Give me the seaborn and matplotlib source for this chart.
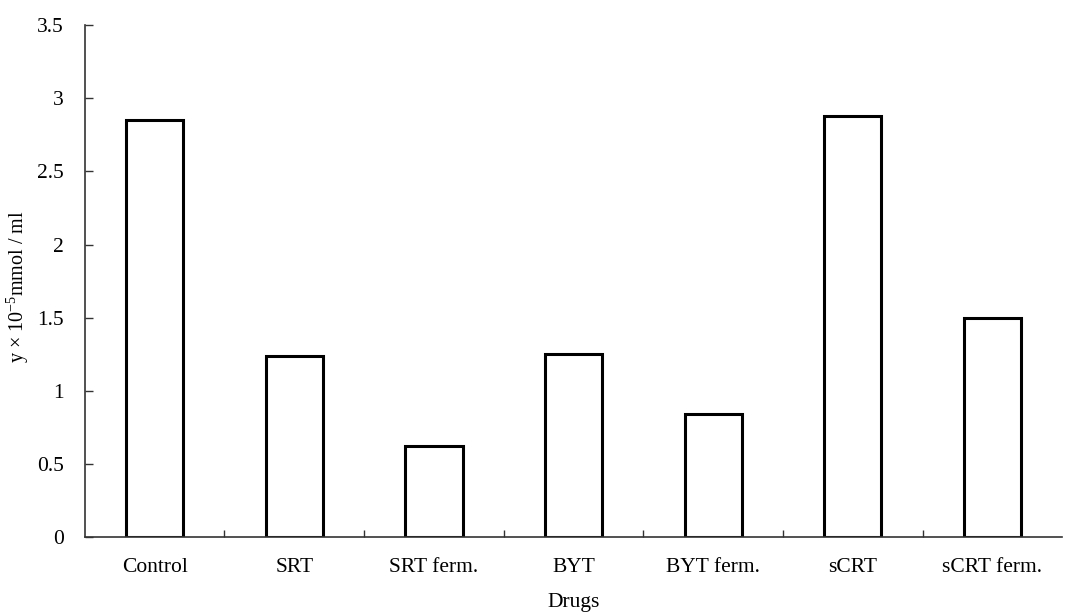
import seaborn as sns
import matplotlib.pyplot as plt
import numpy as np
import pandas as pd

drugs = ['Control', 'SRT', 'SRT ferm.', 'BYT', 'BYT ferm.', 'sCRT', 'sCRT ferm.']
values = [2.85, 1.24, 0.62, 1.25, 0.84, 2.88, 1.50]
y_ticks = [0, 0.5, 1, 1.5, 2, 2.5, 3, 3.5]
y_tick_labels = ['0', '0.5', '1', '1.5', '2', '2.5', '3', '3.5']

sns.set_theme(style='white')
plt.rcParams['font.family'] = ['Liberation Serif', 'DejaVu Serif']
plt.rcParams['mathtext.fontset'] = 'custom'
plt.rcParams['mathtext.rm'] = 'Liberation Serif'
plt.rcParams['mathtext.it'] = 'Liberation Serif:italic'
plt.rcParams['text.color'] = 'black'
plt.rcParams['axes.labelcolor'] = 'black'

df = pd.DataFrame({'Drugs': drugs, 'value': values})

fig, ax = plt.subplots(figsize=(10.73, 6.15), dpi=100)
fig.subplots_adjust(left=0.079, right=0.99, top=0.959, bottom=0.127)

sns.barplot(data=df, x='Drugs', y='value', color='white', edgecolor='black',
            linewidth=2.2, width=0.41, saturation=1, ax=ax)

ax.set_xlim(-0.5, len(drugs) - 0.5)
ax.set_ylim(0, 3.5)
ax.set_yticks(y_ticks)
ax.set_yticklabels(y_tick_labels, fontsize=15.5)
ax.set_xticks(range(len(drugs)))
ax.set_xticklabels(drugs, fontsize=15.5)

# ticks between categories, pointing up
ax.set_xticks(np.arange(0.5, len(drugs) - 0.5, 1), minor=True)
ax.tick_params(axis='x', which='major', length=0, pad=15, labelcolor='black')
ax.tick_params(axis='x', which='minor', direction='in', length=5, width=1, color='#333333', bottom=True)
ax.tick_params(axis='y', which='major', direction='in', length=6, width=1, color='#333333',
               left=True, pad=15, labelcolor='black')

for side in ['top', 'right']:
    ax.spines[side].set_visible(False)
for side in ['left', 'bottom']:
    ax.spines[side].set_color('#333333')
    ax.spines[side].set_linewidth(1.2)

ax.set_xlabel('Drugs', fontsize=15.5, labelpad=12)
ax.set_ylabel('y \u00d7 10$^{-5}$mmol / ml', fontsize=14.5)
ax.yaxis.set_label_coords(-0.055, 0.49)

plt.savefig('out.png', dpi=100)
